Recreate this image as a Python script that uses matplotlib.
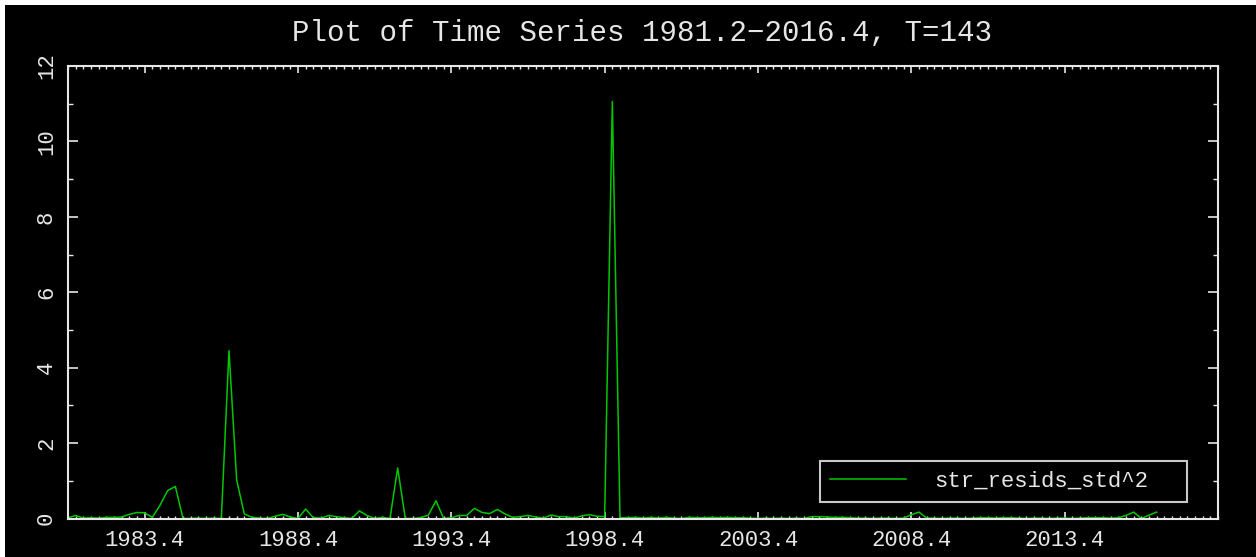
import numpy as np
import matplotlib
matplotlib.use('Agg')
from matplotlib import pyplot as plt
from matplotlib.patches import Rectangle
from matplotlib.ticker import MultipleLocator

# series: squared standardised structural residuals, quarterly 1981.2 - 2016.4
start_year, start_q = 1981, 2
series_name = 'str_resids_std^2'
values = [
    0.02, 0.08, 0.01, 0.02, 0.01, 0.03, 0.03, 0.04, 0.11, 0.16,
    0.15, 0.03, 0.35, 0.74, 0.85, 0.00, 0.00, 0.01, 0.00, 0.01,
    0.00, 4.45, 1.02, 0.12, 0.03, 0.01, 0.00, 0.06, 0.11, 0.04,
    0.00, 0.25, 0.02, 0.01, 0.08, 0.05, 0.02, 0.00, 0.20, 0.08,
    0.00, 0.03, 0.00, 1.34, 0.00, 0.00, 0.02, 0.09, 0.47, 0.00,
    0.02, 0.08, 0.08, 0.27, 0.16, 0.13, 0.24, 0.12, 0.03, 0.05,
    0.08, 0.04, 0.01, 0.09, 0.05, 0.05, 0.01, 0.07, 0.10, 0.06,
    0.05, 11.06, 0.02, 0.02, 0.03, 0.01, 0.03, 0.01, 0.03, 0.01,
    0.00, 0.03, 0.02, 0.02, 0.03, 0.02, 0.03, 0.02, 0.02, 0.01,
    0.00, 0.01, 0.00, 0.01, 0.00, 0.01, 0.00, 0.05, 0.05, 0.04,
    0.03, 0.03, 0.02, 0.01, 0.01, 0.00, 0.01, 0.01, 0.00, 0.01,
    0.10, 0.17, 0.01, 0.01, 0.00, 0.01, 0.01, 0.00, 0.01, 0.02,
    0.02, 0.01, 0.02, 0.02, 0.01, 0.00, 0.01, 0.01, 0.00, 0.01,
    0.01, 0.00, 0.01, 0.02, 0.02, 0.02, 0.01, 0.02, 0.08, 0.17,
    0.00, 0.09, 0.17,
]
xtick_labels = ['1983.4', '1988.4', '1993.4', '1998.4', '2003.4', '2008.4', '2013.4']
ytick_values = [0, 2, 4, 6, 8, 10, 12]

T = len(values)
periods = []
for k in range(T):
    q = start_q - 1 + k
    periods.append('%d.%d' % (start_year + q // 4, q % 4 + 1))
xtick_pos = [periods.index(lab) for lab in xtick_labels]

fg = '#e6e6e6'
green = '#00c800'
mono = ['Liberation Mono', 'DejaVu Sans Mono']

fig = plt.figure(figsize=(12.56, 5.57), dpi=100, facecolor='white')
# black canvas with thin white strip on the left and top
fig.patches.append(Rectangle((5/1256, 0), 1, 1 - 5/557, transform=fig.transFigure,
                             facecolor='black', edgecolor='none', zorder=-10))

ax = fig.add_axes([68/1256, 1 - 518.5/557, 1150/1256, 452.5/557])
ax.set_zorder(1)
ax.set_facecolor('black')
ax.plot(np.arange(T), values, color=green, lw=1.1, label=series_name)

ax.set_xlim(0, 150)
ax.set_ylim(0, 12)
ax.set_xticks(xtick_pos)
ax.set_xticklabels(xtick_labels)
ax.xaxis.set_minor_locator(MultipleLocator(1))
ax.set_yticks(ytick_values)
ax.set_yticklabels([str(v) for v in ytick_values], rotation=90, va='center')
ax.yaxis.set_minor_locator(MultipleLocator(1))

for s in ax.spines.values():
    s.set_color(fg)
    s.set_linewidth(1.5)
ax.tick_params(axis='both', which='both', direction='in', colors=fg,
               top=True, right=True)
ax.tick_params(axis='x', which='major', length=5, width=1.2, pad=8)
ax.tick_params(axis='x', which='minor', length=2.5, width=1.0)
ax.tick_params(axis='y', which='major', length=7.5, width=1.2, pad=8)
ax.tick_params(axis='y', which='minor', length=3.8, width=1.0)
for lab in ax.get_xticklabels() + ax.get_yticklabels():
    lab.set_family(mono)
    lab.set_fontsize(16)
    lab.set_color(fg)

fig.text(642.5/1256, 1 - 33/557, 'Plot of Time Series 1981.2\u22122016.4, T=143',
         ha='center', va='center', color=fg, fontsize=21, family=mono)

# legend box stretched to the width seen in the reference
leg = ax.legend(loc='lower left', bbox_to_anchor=(0.654, 0.0365, 0.319, 0.095),
                mode='expand', fancybox=False,
                facecolor='black', edgecolor='#c8c8c8', framealpha=1,
                prop={'family': mono, 'size': 16}, handlelength=3.4,
                borderpad=0.45, handletextpad=1.3, borderaxespad=0)
leg.get_frame().set_linewidth(1.5)
for t in leg.get_texts():
    t.set_color(fg)

fig.savefig('out.png', dpi=100, facecolor=fig.get_facecolor())
